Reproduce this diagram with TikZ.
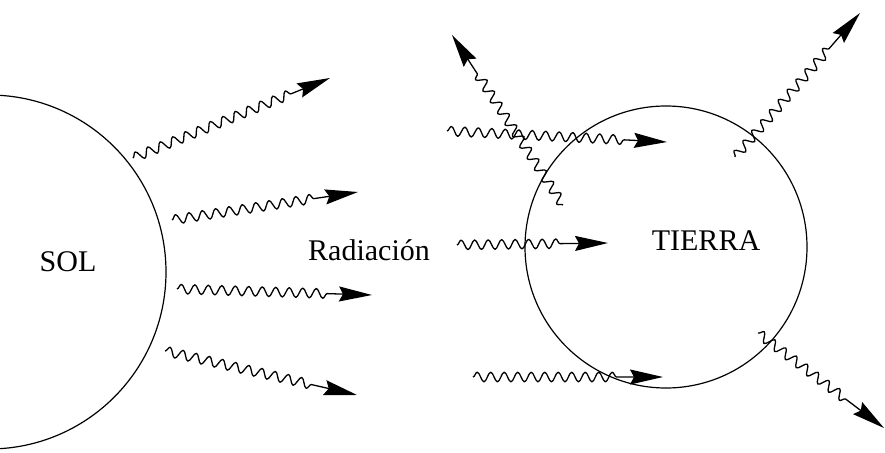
\documentclass[tikz,border=0pt]{standalone}
\usepackage{fontspec}
\setmainfont{Liberation Serif}
\usetikzlibrary{decorations.pathmorphing,arrows.meta}
\begin{document}
\begin{tikzpicture}[x=1pt,y=-1pt,
  wave/.style={line width=1.3pt, line join=round, decorate,
    decoration={snake, amplitude=4.8pt, segment length=13.5pt, post length=42pt},
    -{Stealth[length=33pt,width=15pt,inset=4pt]}},
  lbl/.style={font=\fontsize{30}{32}\selectfont, inner sep=0pt}]
\useasboundingbox (0,0) rectangle (885,452);
\fill[white] (0,0) rectangle (885,452);
\clip (0,0) rectangle (885,452);
% Sun
\draw[line width=1.2pt] (-11,272) circle[radius=177];
\node[lbl] (sol) at (68,262) {SOL};
% Earth
\draw[line width=1.2pt] (666,247) circle[radius=141];
\node[lbl] (tierra) at (706,241) {TIERRA};
\node[lbl] (rad) at (369,250) {Radiación};
% sun rays
\coordinate (s1a) at (133,158); \coordinate (s1b) at (330,78);
\coordinate (s2a) at (172,220); \coordinate (s2b) at (358,192);
\coordinate (s3a) at (177,289); \coordinate (s3b) at (372,295);
\coordinate (s4a) at (165,351); \coordinate (s4b) at (357,395);
\draw[wave] (s1a) -- (s1b);
\draw[wave] (s2a) -- (s2b);
\draw[wave] (s3a) -- (s3b);
\draw[wave] (s4a) -- (s4b);
% earth rays
\coordinate (e1a) at (447,131); \coordinate (e1b) at (667,142);
\coordinate (e2a) at (563,205); \coordinate (e2b) at (452,35);
\coordinate (e3a) at (735,157); \coordinate (e3b) at (860,13);
\coordinate (e4a) at (457,245); \coordinate (e4b) at (608,243);
\coordinate (e5a) at (473,377); \coordinate (e5b) at (663,377);
\coordinate (e6a) at (758,333); \coordinate (e6b) at (884,428);
\draw[wave] (e1a) -- (e1b);
\draw[wave] (e2a) -- (e2b);
\draw[wave] (e3a) -- (e3b);
\draw[wave] (e4a) -- (e4b);
\draw[wave] (e5a) -- (e5b);
\draw[wave] (e6a) -- (e6b);
\end{tikzpicture}
\end{document}
